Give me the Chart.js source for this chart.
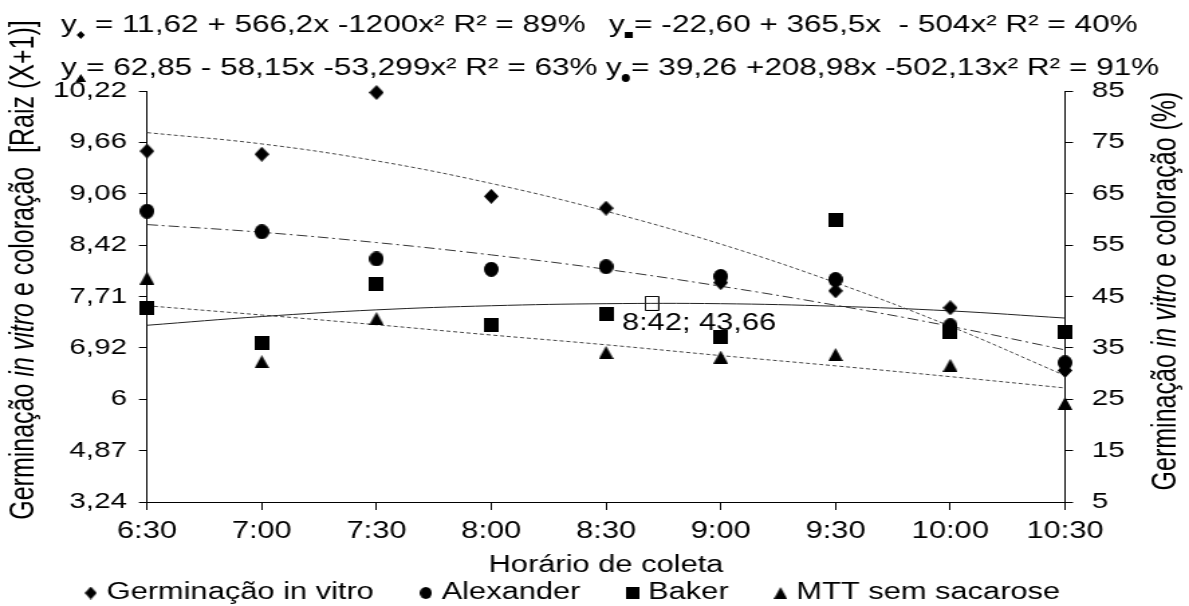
<!DOCTYPE html>
<html>
<head>
<meta charset="utf-8">
<script src="https://cdn.jsdelivr.net/npm/chart.js@4.4.1/dist/chart.umd.min.js"></script>
<style>
  html, body { margin: 0; padding: 0; background: #fff; overflow: hidden; }
  /* the original figure has its text stretched sideways, so the whole chart is drawn narrower and scaled */
  #wrap { width: 887px; height: 606px; transform: scaleX(1.3405); transform-origin: 0 0; }
</style>
</head>
<body>
<div id="wrap"><canvas id="grafico"></canvas></div>
<script>
const horarios = ["6:30", "7:00", "7:30", "8:00", "8:30", "9:00", "9:30", "10:00", "10:30"];
const horas = [6.5, 7, 7.5, 8, 8.5, 9, 9.5, 10, 10.5];
const rotulosEsquerda = ["3,24", "4,87", "6", "6,92", "7,71", "8,42", "9,06", "9,66", "10,22"];
const rotulosDireita = ["5", "15", "25", "35", "45", "55", "65", "75", "85"];

// observed values (%)
const germinacao = [73.3, 72.7, 84.7, 64.5, 62.2, 47.7, 46.1, 42.8, 30.6];
const alexander = [61.6, 57.6, 52.3, 50.3, 50.8, 48.9, 48.3, 39.3, 32.1];
const baker = [42.8, 36.0, 47.4, 39.5, 41.6, 37.1, 59.9, 38.1, 38.0];
const mtt = [48.6, 32.3, 40.7, null, 34.1, 33.2, 33.7, 31.6, 24.2];

// fitted curves read at each collection time
const germinacaoAjuste = [76.9, 74.7, 71.4, 67.0, 61.6, 55.2, 47.7, 39.2, 29.6];
const alexanderAjuste = [59.0, 57.5, 55.5, 53.1, 50.3, 47.0, 43.3, 39.2, 34.6];
const bakerAjuste = [39.4, 41.1, 42.4, 43.2, 43.6, 43.6, 43.1, 42.2, 40.8];
const mttAjuste = [43.2, 41.4, 39.5, 37.5, 35.6, 33.5, 31.5, 29.4, 27.2];

// maximum point of the Baker curve
const pontoMaximo = { hora: 8.7, valor: 43.66, texto: "8:42; 43,66" };

const equacoes = [
  { marca: "diamond", texto: " = 11,62 + 566,2x -1200x² R² = 89%", x: 61, y: 32 },
  { marca: "square", texto: "= -22,60 + 365,5x  - 504x² R² = 40%", x: 609, y: 32 },
  { marca: "triangle", texto: "= 62,85 - 58,15x -53,299x² R² = 63%", x: 61, y: 75 },
  { marca: "circle", texto: "= 39,26 +208,98x -502,13x² R² = 91%", x: 606, y: 75 },
];

const S = 1189 / 887;
const X = (px) => px / S;
const FONTE = '"Liberation Sans", Arial, sans-serif';

Chart.defaults.font.family = FONTE;
Chart.defaults.color = "#000";

// marker images are drawn narrower so they come out round after the stretch
function marcador(forma, w, h, preenchimento) {
  const c = document.createElement("canvas");
  c.width = w;
  c.height = h;
  const ctx = c.getContext("2d");
  ctx.fillStyle = preenchimento || "#000";
  ctx.strokeStyle = "#000";
  ctx.lineWidth = 1;
  ctx.beginPath();
  if (forma === "diamond") {
    ctx.moveTo(w / 2, 0);
    ctx.lineTo(w, h / 2);
    ctx.lineTo(w / 2, h);
    ctx.lineTo(0, h / 2);
  } else if (forma === "circle") {
    ctx.ellipse(w / 2, h / 2, w / 2, h / 2, 0, 0, Math.PI * 2);
  } else if (forma === "square") {
    ctx.rect(0, 0, w, h);
  } else if (forma === "triangle") {
    ctx.moveTo(w / 2, 0);
    ctx.lineTo(w, h);
    ctx.lineTo(0, h);
  } else if (forma === "open") {
    ctx.rect(0.5, 0.5, w - 1, h - 1);
  }
  ctx.closePath();
  ctx.fill();
  if (forma === "open") ctx.stroke();
  return c;
}

const marcas = {
  diamond: marcador("diamond", 11, 15),
  circle: marcador("circle", 11, 15),
  square: marcador("square", 11, 14),
  triangle: marcador("triangle", 11, 13),
};
const marcasLegenda = [
  marcador("diamond", 9, 13),
  marcador("circle", 9, 12),
  marcador("square", 10, 12),
  marcador("triangle", 10, 12),
];
const marcaAberta = marcador("open", 11, 15, "#fff");

function pares(valores) {
  return horas.map((h, i) => ({ x: h, y: valores[i] }));
}

function pontos(rotulo, valores, forma) {
  return {
    label: rotulo,
    data: pares(valores),
    pointStyle: marcas[forma],
    pointRadius: 7,
    showLine: false,
    clip: false,
  };
}

function ajuste(valores, cor, tracos) {
  return {
    label: "",
    data: pares(valores),
    showLine: true,
    pointRadius: 0,
    borderColor: cor,
    borderWidth: 1,
    borderDash: tracos,
    tension: 0.4,
    fill: false,
    clip: false,
  };
}

function escreveMisto(ctx, partes, tamanho, x, y, alinhamento) {
  let total = 0;
  partes.forEach((p) => {
    ctx.font = (p.italico ? "italic " : "") + tamanho + "px " + FONTE;
    total += ctx.measureText(p.t).width;
  });
  let cx = alinhamento === "center" ? x - total / 2 : x;
  ctx.textAlign = "left";
  partes.forEach((p) => {
    ctx.font = (p.italico ? "italic " : "") + tamanho + "px " + FONTE;
    ctx.fillText(p.t, cx, y);
    cx += ctx.measureText(p.t).width;
  });
}

function subMarca(ctx, forma, x, y) {
  const w = 6, h = 8;
  ctx.beginPath();
  if (forma === "diamond") {
    ctx.moveTo(x + w / 2, y - h / 2);
    ctx.lineTo(x + w, y);
    ctx.lineTo(x + w / 2, y + h / 2);
    ctx.lineTo(x, y);
  } else if (forma === "square") {
    ctx.rect(x, y - h / 2 + 1, w, h - 2);
  } else if (forma === "triangle") {
    ctx.moveTo(x + w / 2, y - h / 2);
    ctx.lineTo(x + w + 1, y + h / 2);
    ctx.lineTo(x - 1, y + h / 2);
  } else {
    ctx.ellipse(x + w / 2, y, w / 2, h / 2, 0, 0, Math.PI * 2);
  }
  ctx.closePath();
  ctx.fill();
}

const textos = {
  id: "textos",
  afterDraw(chart) {
    const ctx = chart.ctx;
    const area = chart.chartArea;
    ctx.save();
    ctx.fillStyle = "#000";
    ctx.textBaseline = "alphabetic";

    // regression equations above the plot
    equacoes.forEach((eq) => {
      ctx.font = "23.5px " + FONTE;
      ctx.textAlign = "left";
      const x0 = X(eq.x);
      ctx.fillText("y", x0, eq.y);
      const wy = ctx.measureText("y").width;
      subMarca(ctx, eq.marca, x0 + wy, eq.y + 3);
      ctx.fillText(eq.texto, x0 + wy + 7, eq.y);
    });

    // x axis title
    ctx.textBaseline = "middle";
    escreveMisto(ctx, [{ t: "Horário de coleta" }], 23, (area.left + area.right) / 2, 566, "center");

    // left axis title
    ctx.save();
    ctx.translate(X(24), 270);
    ctx.rotate(-Math.PI / 2);
    escreveMisto(
      ctx,
      [
        { t: "Germinação " },
        { t: "in vitro", italico: true },
        { t: " e coloração  [Raiz (X+1)]" },
      ],
      25,
      0,
      0,
      "center"
    );
    ctx.restore();

    // right axis title
    ctx.save();
    ctx.translate(X(1166), 291);
    ctx.rotate(-Math.PI / 2);
    escreveMisto(
      ctx,
      [
        { t: "Germinação " },
        { t: "in vitro", italico: true },
        { t: " e coloração (%)" },
      ],
      25,
      0,
      0,
      "center"
    );
    ctx.restore();

    // label of the maximum point
    const px = chart.scales.x.getPixelForValue(pontoMaximo.hora);
    const py = chart.scales.y.getPixelForValue(pontoMaximo.valor);
    ctx.font = "23px " + FONTE;
    ctx.textAlign = "left";
    ctx.fillText(pontoMaximo.texto, px - X(30), py + 20);
    ctx.restore();
  },
};

new Chart(document.getElementById("grafico"), {
  type: "scatter",
  data: {
    datasets: [
      pontos("Germinação in vitro", germinacao, "diamond"),
      pontos("Alexander", alexander, "circle"),
      pontos("Baker", baker, "square"),
      pontos("MTT sem sacarose", mtt, "triangle"),
      ajuste(germinacaoAjuste, "#444", [3, 2]),
      ajuste(alexanderAjuste, "#333", [8, 3, 2, 3]),
      ajuste(bakerAjuste, "#222", []),
      ajuste(mttAjuste, "#444", [3, 2]),
      {
        label: "",
        data: [{ x: pontoMaximo.hora, y: pontoMaximo.valor }],
        pointStyle: marcaAberta,
        pointRadius: 7,
        showLine: false,
        clip: false,
      },
    ],
  },
  options: {
    responsive: true,
    maintainAspectRatio: false,
    animation: false,
    layout: { padding: { top: 91, left: 29, right: 0, bottom: 0 } },
    plugins: {
      tooltip: { enabled: false },
      legend: {
        position: "bottom",
        align: "start",
        maxHeight: 63,
        labels: {
          usePointStyle: true,
          pointStyleWidth: 0.5,
          padding: 38.5,
          font: { size: 23 },
          color: "#000",
          generateLabels(chart) {
            const itens = Chart.defaults.plugins.legend.labels.generateLabels(chart);
            return itens
              .filter((item) => item.datasetIndex < 4)
              .map((item) => ({ ...item, pointStyle: marcasLegenda[item.datasetIndex] }));
          },
        },
      },
    },
    scales: {
      x: {
        type: "linear",
        min: 6.5,
        max: 10.5,
        afterFit(scale) {
          scale.height = 41;
        },
        ticks: {
          stepSize: 0.5,
          padding: 8,
          font: { size: 23 },
          color: "#000",
          callback: (v) => horarios[Math.round((v - horas[0]) * 2)],
        },
        grid: { drawOnChartArea: false, tickLength: 8, color: "#000" },
        border: { color: "#000", width: 1 },
      },
      y: {
        position: "left",
        min: 5,
        max: 85,
        afterFit(scale) {
          scale.width = X(147) - 29;
        },
        ticks: {
          stepSize: 10,
          padding: 9,
          font: { size: 22 },
          color: "#000",
          callback: (v, i) => rotulosEsquerda[i],
        },
        grid: { drawOnChartArea: false, tickLength: 6, color: "#000" },
        border: { color: "#000", width: 1 },
      },
      y2: {
        position: "right",
        min: 5,
        max: 85,
        afterFit(scale) {
          scale.width = 887 - X(1065);
        },
        ticks: {
          stepSize: 10,
          padding: 14,
          font: { size: 22 },
          color: "#000",
          callback: (v, i) => rotulosDireita[i],
        },
        grid: { drawOnChartArea: false, tickLength: 6, color: "#000" },
        border: { color: "#000", width: 1 },
      },
    },
  },
  plugins: [textos],
});
</script>
</body>
</html>
